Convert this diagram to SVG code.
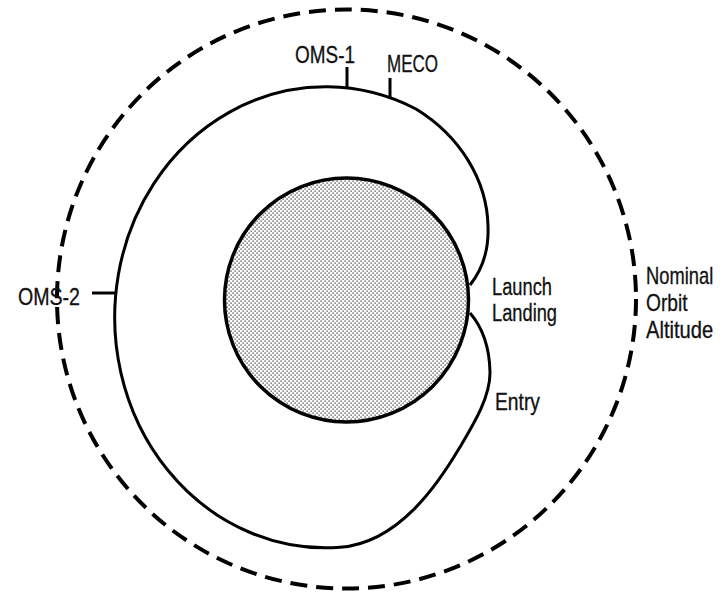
<svg xmlns="http://www.w3.org/2000/svg" width="723" height="594" viewBox="0 0 723 594">
<defs>
<pattern id="dots" width="4" height="4" patternUnits="userSpaceOnUse">
<rect x="0" y="0" width="4" height="4" fill="#fff"/>
<rect x="0.5" y="0.5" width="1.2" height="1.2" fill="#222"/>
<rect x="2.5" y="2.5" width="1.2" height="1.2" fill="#222"/>
</pattern>
<style>
.lbl{font-family:"Liberation Sans",Arial,sans-serif;font-size:23px;fill:#111;stroke:#111;stroke-width:0.3;}
.line{fill:none;stroke:#000;stroke-width:3;}
</style>
</defs>
<rect width="723" height="594" fill="#fff"/>
<g id="nominal-orbit">
<circle cx="346.5" cy="299" r="289.5" fill="none" stroke="#000" stroke-width="4" stroke-dasharray="17 9"/>
<g transform="translate(646,0) scale(0.8,1)">
<text class="lbl" x="0" y="284" textLength="84" lengthAdjust="spacingAndGlyphs">Nominal</text>
<text class="lbl" x="0" y="311" textLength="52" lengthAdjust="spacingAndGlyphs">Orbit</text>
<text class="lbl" x="0" y="338" textLength="84" lengthAdjust="spacingAndGlyphs">Altitude</text>
</g>
</g>
<g id="earth">
<circle cx="346.5" cy="300" r="122" fill="url(#dots)" stroke="#000" stroke-width="3.5"/>
</g>
<g id="connectors">
<path class="line" d="M470,285 C482,270 489,250 488,226 C487,180 460,136 416,109 A211 230.5 0 1 0 340,547.3 C400,542.7 439.6,481.4 460,447 C472.8,425.5 490.5,397 490,372 C489.5,348 483,328 470,313"/>
<line class="line" x1="347" y1="67" x2="347" y2="89"/>
<line class="line" x1="390" y1="78" x2="390" y2="99"/>
<line class="line" x1="92" y1="293" x2="115" y2="293"/>
</g>
<g id="labels">
<text class="lbl" x="295" y="63" textLength="60" lengthAdjust="spacingAndGlyphs">OMS-1</text>
<text class="lbl" x="387" y="72" textLength="51" lengthAdjust="spacingAndGlyphs">MECO</text>
<text class="lbl" x="18" y="305" textLength="62" lengthAdjust="spacingAndGlyphs">OMS-2</text>
<text class="lbl" x="492" y="295" textLength="60" lengthAdjust="spacingAndGlyphs">Launch</text>
<text class="lbl" x="492" y="321" textLength="65" lengthAdjust="spacingAndGlyphs">Landing</text>
<text class="lbl" x="495" y="410" textLength="45" lengthAdjust="spacingAndGlyphs">Entry</text>
</g>
</svg>
